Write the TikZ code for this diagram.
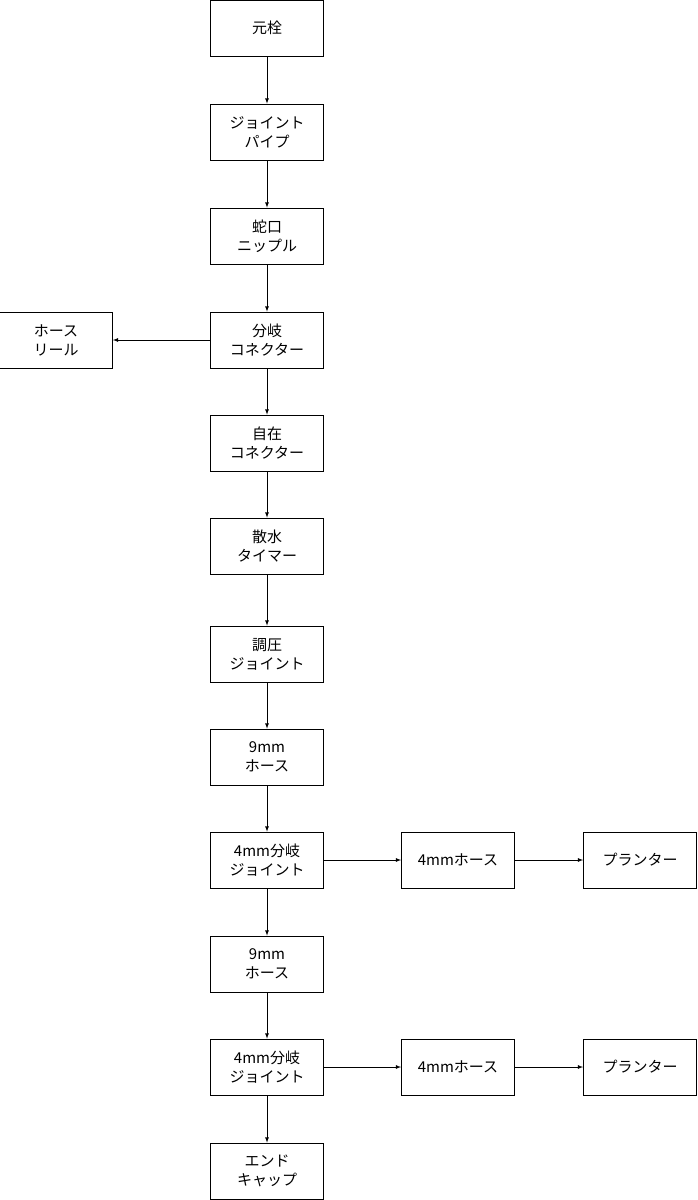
\documentclass[tikz,border=0pt]{standalone}
\usepackage{fontspec}
\setmainfont{Noto Sans CJK JP}
\begin{document}
\begin{tikzpicture}[x=1pt,y=-1pt,
 box/.style={draw,line width=0.8pt,minimum width=113pt,minimum height=56pt,align=center,font=\fontsize{15}{19}\selectfont,inner sep=0pt},
 arr/.style={-latex,line width=0.8pt}]
\useasboundingbox (0,0) rectangle (697,1200);
\def\cx{267}
\node[box] (a) at (\cx,28) {元栓};
\node[box] (b) at (\cx,132) {ジョイント\\パイプ};
\node[box] (c) at (\cx,236) {蛇口\\ニップル};
\node[box] (d) at (\cx,340) {分岐\\コネクター};
\node[box] (r) at (56,340) {ホース\\リール};
\node[box] (e) at (\cx,443) {自在\\コネクター};
\node[box] (f) at (\cx,546) {散水\\タイマー};
\node[box] (g) at (\cx,654) {調圧\\ジョイント};
\node[box] (h) at (\cx,757) {9mm\\ホース};
\node[box] (i) at (\cx,860) {4mm分岐\\ジョイント};
\node[box] (i1) at (458,860) {4mmホース};
\node[box] (i2) at (640,860) {プランター};
\node[box] (j) at (\cx,964) {9mm\\ホース};
\node[box] (k) at (\cx,1067) {4mm分岐\\ジョイント};
\node[box] (k1) at (458,1067) {4mmホース};
\node[box] (k2) at (640,1067) {プランター};
\node[box] (l) at (\cx,1171) {エンド\\キャップ};
\foreach \p/\q in {a/b,b/c,c/d,d/e,e/f,f/g,g/h,h/i,i/j,j/k,k/l,d/r,i/i1,i1/i2,k/k1,k1/k2}
 \draw[arr] (\p) -- (\q);
\end{tikzpicture}
\end{document}
